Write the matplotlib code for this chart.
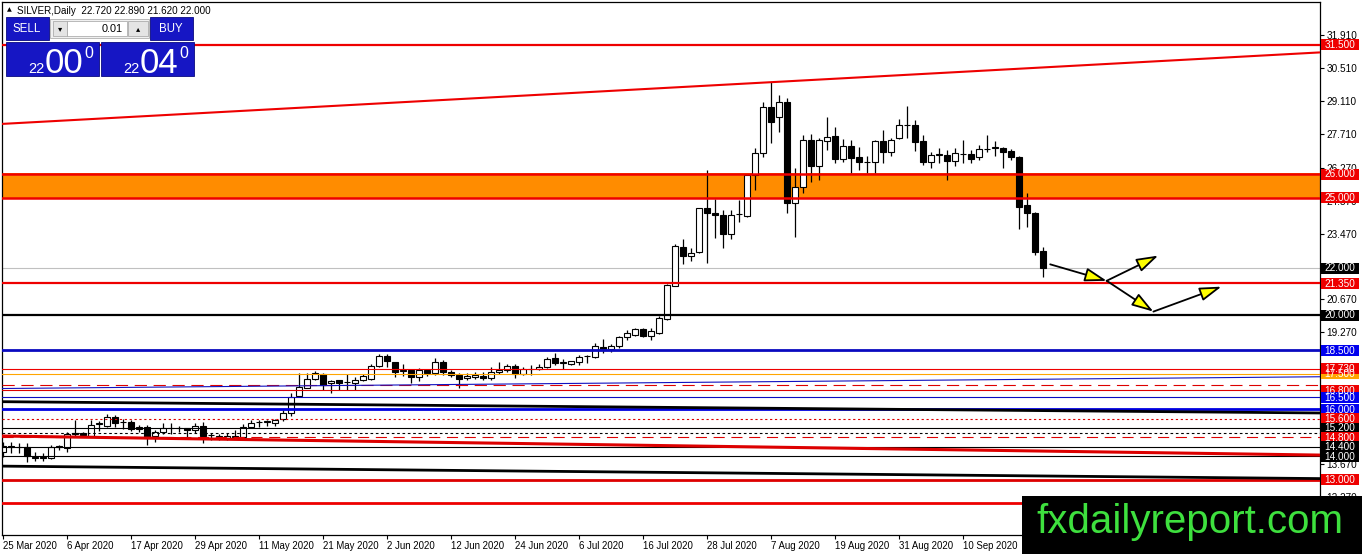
import matplotlib
matplotlib.use("Agg")
import matplotlib.pyplot as plt
from matplotlib.patches import Rectangle
import numpy as np

plt.rcParams['font.family'] = ['Liberation Sans', 'DejaVu Sans']

# ---------------- data ----------------
opens = [14.18, 14.42, 14.40, 14.40, 13.98, 13.95, 13.93, 14.42, 14.35, 14.95,
         15.00, 14.86, 15.37, 15.29, 15.67, 15.46, 15.46, 15.16, 15.25, 14.86,
         15.03, 15.20, 15.20, 15.20, 15.12, 15.29, 14.90, 14.86, 14.78, 14.86,
         14.82, 15.25, 15.44, 15.46, 15.42, 15.58, 15.84, 16.56, 16.90, 17.28,
         17.50, 17.12, 17.24, 17.15, 17.12, 17.25, 17.28, 17.84, 18.26, 18.01,
         17.63, 17.67, 17.37, 17.67, 17.54, 18.01, 17.58, 17.46, 17.33, 17.37,
         17.41, 17.33, 17.58, 17.67, 17.84, 17.50, 17.71, 17.71, 17.80, 18.18,
         17.97, 17.93, 18.01, 18.26, 18.22, 18.65, 18.56, 18.69, 19.07, 19.16,
         19.41, 19.11, 19.24, 19.84, 21.24, 22.91, 22.53, 22.69, 24.56, 24.35,
         24.26, 23.45, 24.28, 24.22, 25.96, 26.89, 28.85, 28.42, 29.06, 24.77,
         25.45, 27.45, 26.34, 27.40, 27.62, 26.64, 27.19, 26.72, 26.51, 26.51,
         27.40, 26.94, 27.53, 28.08, 28.08, 27.40, 26.51, 26.81, 26.81, 26.55,
         26.85, 26.85, 26.72, 27.08, 27.11, 27.11, 26.98, 26.72, 24.68, 24.34,
         22.72]
highs = [14.61, 14.61, 14.55, 14.57, 14.18, 14.14, 14.48, 14.48, 15.03, 15.54,
         15.05, 15.54, 15.50, 15.80, 15.75, 15.58, 15.54, 15.33, 15.33, 15.12,
         15.41, 15.41, 15.30, 15.22, 15.42, 15.46, 15.00, 14.95, 14.99, 15.12,
         15.37, 15.54, 15.54, 15.54, 15.58, 15.97, 16.69, 17.54, 17.54, 17.63,
         17.54, 17.24, 17.24, 17.50, 17.37, 17.50, 17.93, 18.35, 18.35, 18.01,
         17.93, 17.67, 17.75, 17.67, 18.18, 18.09, 17.67, 17.54, 17.54, 17.58,
         17.58, 17.80, 18.01, 17.93, 17.93, 17.80, 17.88, 17.93, 18.22, 18.39,
         18.13, 18.05, 18.30, 18.30, 18.82, 18.99, 18.77, 19.11, 19.37, 19.45,
         19.45, 19.45, 19.96, 21.33, 23.03, 23.24, 22.87, 24.56, 26.17, 24.94,
         24.47, 24.47, 24.90, 25.96, 27.11, 29.06, 29.91, 29.36, 29.23, 26.26,
         27.66, 27.70, 27.53, 28.42, 27.99, 27.49, 27.45, 27.15, 26.77, 27.45,
         27.87, 27.53, 28.34, 28.89, 28.29, 27.66, 26.94, 27.11, 27.02, 27.11,
         27.45, 27.02, 27.23, 27.66, 27.40, 27.15, 27.06, 26.77, 25.19, 24.39,
         22.89]
lows = [13.97, 14.14, 14.14, 13.76, 13.80, 13.80, 13.89, 14.27, 14.18, 14.82,
        14.82, 14.82, 15.07, 15.25, 15.25, 15.16, 15.07, 15.03, 14.48, 14.61,
        14.95, 14.95, 15.03, 14.82, 15.00, 14.57, 14.69, 14.69, 14.69, 14.78,
        14.78, 15.25, 15.25, 15.29, 15.29, 15.50, 15.71, 16.52, 16.90, 17.24,
        16.82, 16.69, 16.82, 16.82, 16.82, 17.20, 17.24, 17.80, 17.80, 17.37,
        17.42, 17.12, 17.20, 17.42, 17.46, 17.46, 17.37, 16.90, 17.24, 17.29,
        17.24, 17.24, 17.50, 17.58, 17.33, 17.46, 17.46, 17.67, 17.75, 17.88,
        17.71, 17.88, 17.88, 17.97, 18.18, 18.39, 18.43, 18.60, 18.94, 19.11,
        19.07, 18.94, 19.20, 19.79, 21.24, 22.17, 22.30, 22.66, 22.21, 23.28,
        22.85, 23.24, 23.96, 24.18, 25.32, 26.72, 27.32, 27.79, 24.34, 23.32,
        25.19, 25.66, 25.74, 27.02, 26.47, 26.51, 26.04, 26.17, 26.04, 26.04,
        26.47, 26.77, 27.49, 27.53, 26.98, 26.38, 26.26, 26.47, 25.74, 26.34,
        26.47, 26.47, 26.60, 26.94, 26.77, 26.26, 26.60, 23.66, 23.75, 22.56,
        21.62]
closes = [14.44, 14.40, 14.38, 14.01, 13.93, 13.93, 14.40, 14.38, 14.95, 14.97,
          14.90, 15.33, 15.40, 15.67, 15.41, 15.44, 15.16, 15.25, 14.82, 15.03,
          15.20, 15.22, 15.21, 15.12, 15.29, 14.86, 14.92, 14.78, 14.86, 14.80,
          15.25, 15.42, 15.46, 15.48, 15.54, 15.84, 16.52, 16.94, 17.28, 17.54,
          17.03, 17.20, 17.12, 17.16, 17.24, 17.42, 17.84, 18.26, 18.05, 17.58,
          17.64, 17.37, 17.67, 17.54, 18.01, 17.58, 17.46, 17.28, 17.41, 17.46,
          17.33, 17.58, 17.67, 17.84, 17.50, 17.71, 17.72, 17.80, 18.13, 17.97,
          17.98, 18.03, 18.22, 18.27, 18.69, 18.56, 18.69, 19.07, 19.24, 19.41,
          19.11, 19.32, 19.88, 21.28, 22.94, 22.53, 22.66, 24.56, 24.35, 24.26,
          23.45, 24.26, 24.30, 25.96, 26.89, 28.85, 28.21, 29.06, 24.77, 25.45,
          27.45, 26.34, 27.45, 27.57, 26.64, 27.19, 26.68, 26.51, 26.53, 27.40,
          26.94, 27.45, 28.08, 28.10, 27.36, 26.51, 26.81, 26.83, 26.55, 26.89,
          26.87, 26.64, 27.06, 27.06, 27.12, 26.94, 26.72, 24.60, 24.34, 22.69,
          22.00]

date_idx = [0, 8, 16, 24, 32, 40, 48, 56, 64, 72, 80, 88, 96, 104, 112, 120]
date_labels = ["25 Mar 2020", "6 Apr 2020", "17 Apr 2020", "29 Apr 2020",
               "11 May 2020", "21 May 2020", "2 Jun 2020", "12 Jun 2020",
               "24 Jun 2020", "6 Jul 2020", "16 Jul 2020", "28 Jul 2020",
               "7 Aug 2020", "19 Aug 2020", "31 Aug 2020", "10 Sep 2020"]

# visible price-scale ticks (the rest are hidden under the level labels)
y_ticks = [31.91, 30.51, 29.11, 27.71, 26.27, 24.87, 23.47, 20.67,
           19.27, 13.67, 12.27]

# horizontal levels: price, colour, width (pt), style
h_levels = [31.5, 26.0, 25.0, 21.35, 20.0, 18.5, 17.73, 17.5, 17.03, 16.8,
            16.5, 16.0, 15.6, 15.2, 15.0, 14.8, 14.4, 14.0, 13.0, 12.0]
h_colors = ['#ee0000', '#ee0000', '#ee0000', '#ee0000', 'black', '#0a0ac0',
            '#ee0000', '#ffa500', '#dd0000', '#dd0000', '#0a0ac0', '#0000e0',
            '#dd0000', 'black', 'black', '#dd0000', 'black', 'black',
            '#dd0000', '#ee0000']
h_widths = [1.6, 1.8, 1.8, 1.6, 1.6, 2.0, 0.8, 0.8, 0.8, 0.8,
            0.8, 2.0, 0.8, 0.8, 0.8, 0.8, 0.8, 0.8, 2.0, 2.0]
h_styles = ['-', '-', '-', '-', '-', '-', '-', '-', (0, (11, 6)), '-',
            '-', '-', (0, (2, 2.4)), '-', (0, (2.4, 2.4)), (0, (10, 6)), '-', '-',
            '-', '-']

# sloped lines: price at left edge, price at right edge
s_left = [28.13, 14.86, 13.58, 16.32, 16.88]
s_right = [31.17, 14.05, 13.05, 15.84, 17.38]
s_colors = ['#ee0000', '#dd0000', 'black', 'black', '#1010c0']
s_widths = [1.5, 2.2, 2.0, 2.0, 0.8]

bid_price = 22.0
band_low, band_high = 25.0, 26.06

# projected path arrows (bar index, price)
arrow_from = [(130.9, 22.16), (137.96, 21.46), (137.96, 21.46), (143.8, 20.15)]
arrow_to = [(137.96, 21.46), (144.4, 22.53), (143.8, 20.15), (152.3, 21.21)]

# right-side price labels
lab_prices = [31.5, 26.0, 25.0, 22.0, 21.35, 20.0, 18.5, 17.5, 17.73, 16.8,
              16.5, 16.0, 15.6, 15.2, 14.8, 14.4, 14.0, 13.0, 12.0]
lab_colors = ['#ee0000', '#ee0000', '#ee0000', 'black', '#ee0000', 'black',
              '#0000ee', '#ffa500', '#ee0000', '#ee0000', '#0000ee', '#0000ee',
              '#ee0000', 'black', '#ee0000', 'black', 'black', '#ee0000',
              '#ee0000']

header = "SILVER,Daily  22.720 22.890 21.620 22.000"

# ---------------- figure ----------------
W, H = 1362, 554
fig = plt.figure(figsize=(W / 100, H / 100), dpi=100)
fig.patch.set_facecolor('white')
ax = fig.add_axes([2 / W, 19 / H, 1318 / W, 533 / H])
ax.set_facecolor('white')
XMIN, XMAX = -0.125, 164.625
ax.set_xlim(XMIN, XMAX)
ax.set_ylim(10.652, 33.313)

# orange zone
ax.axhspan(band_low, band_high, color='#ff8c00', zorder=1, lw=0)

# candles
o = np.array(opens); h = np.array(highs); l = np.array(lows); c = np.array(closes)
x = np.arange(len(o))
ax.vlines(x, l, h, color='black', lw=0.9, zorder=2)
bull = c >= o
bottoms = np.minimum(o, c)
heights = np.maximum(np.abs(c - o), 0.02)
ax.bar(x[bull], heights[bull], bottom=bottoms[bull], width=0.72,
       color='white', edgecolor='black', lw=0.8, zorder=2.5)
ax.bar(x[~bull], heights[~bull], bottom=bottoms[~bull], width=0.72,
       color='black', edgecolor='black', lw=0.8, zorder=2.5)

# horizontal levels
ax.axhline(bid_price, color='#c0c0c0', lw=0.8, zorder=1.5)
for p, col, w, st in zip(h_levels, h_colors, h_widths, h_styles):
    ax.axhline(p, color=col, lw=w, linestyle=st, zorder=3)
for pl, pr, col, w in zip(s_left, s_right, s_colors, s_widths):
    ax.plot([XMIN, XMAX], [pl, pr], color=col, lw=w, zorder=3,
            solid_capstyle='butt')

# arrows
for a, b in zip(arrow_from, arrow_to):
    ax.annotate('', xy=b, xytext=a,
                arrowprops=dict(arrowstyle='-|>,head_length=0.95,head_width=0.3',
                                fc='#ffff00', ec='black', lw=1.3,
                                mutation_scale=14, shrinkA=0, shrinkB=0),
                zorder=6)

# axes styling
for s in ['top', 'bottom', 'left', 'right']:
    ax.spines[s].set_color('black')
    ax.spines[s].set_linewidth(0.9)
ax.yaxis.tick_right()
ax.set_yticks(y_ticks)
ax.set_yticklabels([f"{t:.3f}" for t in y_ticks])
ax.tick_params(axis='y', which='both', length=3, width=0.8, pad=1.5,
               labelsize=7.2, colors='black', left=False, right=True)
ax.set_xticks(date_idx)
ax.set_xticklabels(date_labels)
ax.tick_params(axis='x', length=3, width=0.8, pad=1.5, labelsize=6.9)
for t in ax.get_xticklabels():
    t.set_ha('left')

fig.canvas.draw()


def prect(x0, y0, x1, y1, **kw):
    r = Rectangle((x0 / W, 1 - y1 / H), (x1 - x0) / W, (y1 - y0) / H,
                  transform=fig.transFigure, **kw)
    fig.add_artist(r)
    return r


def ptext(xp, yp, s, **kw):
    return fig.text(xp / W, 1 - yp / H, s, **kw)


# price labels on the axis
for p, col in zip(lab_prices, lab_colors):
    disp_y = ax.transData.transform((0, p))[1]
    ytop = H - disp_y
    prect(1321, ytop - 5.5, 1359, ytop + 5.5, fc=col, ec='none', zorder=5)
    ptext(1340, ytop + 0.3, f"{p:.3f}", color='white', fontsize=7.2,
          ha='center', va='center', zorder=6)

# header
ptext(9, 10, "\u25b2", fontsize=4.5, ha='center', va='center',
      family=['DejaVu Sans'], zorder=8)
ptext(17, 10.5, header, fontsize=7.1, ha='left', va='center', zorder=8)

# trading panel
blue = '#1616c4'
prect(6, 17, 49, 40, fc=blue, ec='#0a0a80', lw=0.6, zorder=8)
ptext(27, 29, "SELL", color='white', fontsize=8.3, ha='center', va='center', zorder=9)
prect(150, 17, 193, 40, fc=blue, ec='#0a0a80', lw=0.6, zorder=8)
ptext(171, 29, "BUY", color='white', fontsize=8.3, ha='center', va='center', zorder=9)
prect(50, 19, 149, 38, fc='#f0f0f0', ec='#b0b0b0', lw=0.6, zorder=8)
prect(53, 21, 67, 36, fc='#e4e4e4', ec='#a0a0a0', lw=0.5, zorder=8.5)
ptext(60, 28.5, "\u25be", fontsize=6, ha='center', va='center',
      family=['DejaVu Sans'], zorder=9)
prect(67, 21, 127, 36, fc='white', ec='#a0a0a0', lw=0.5, zorder=8.5)
ptext(123, 28.5, "0.01", fontsize=7.8, ha='right', va='center', zorder=9)
prect(128, 21, 148, 36, fc='#e4e4e4', ec='#a0a0a0', lw=0.5, zorder=8.5)
ptext(138, 28.5, "\u25b4", fontsize=6, ha='center', va='center',
      family=['DejaVu Sans'], zorder=9)

prect(6, 42, 99, 76, fc=blue, ec='#0a0a80', lw=0.6, zorder=8)
prect(101, 42, 194, 76, fc=blue, ec='#0a0a80', lw=0.6, zorder=8)
ptext(36, 73, "22", color='white', fontsize=10.5, ha='center', va='baseline', zorder=9)
ptext(64, 73, "00", color='white', fontsize=25, ha='center', va='baseline', zorder=9)
ptext(88.5, 58, "0", color='white', fontsize=11.5, ha='center', va='baseline', zorder=9)
ptext(131, 73, "22", color='white', fontsize=10.5, ha='center', va='baseline', zorder=9)
ptext(159, 73, "04", color='white', fontsize=25, ha='center', va='baseline', zorder=9)
ptext(183.5, 58, "0", color='white', fontsize=11.5, ha='center', va='baseline', zorder=9)

# watermark
prect(1022, 496, 1362, 554, fc='black', ec='none', zorder=10)
ptext(1190, 533, "fxdailyreport.com", color='#3ee03e', fontsize=29,
      ha='center', va='baseline', zorder=11)

fig.savefig("out.png", dpi=100, facecolor='white')
